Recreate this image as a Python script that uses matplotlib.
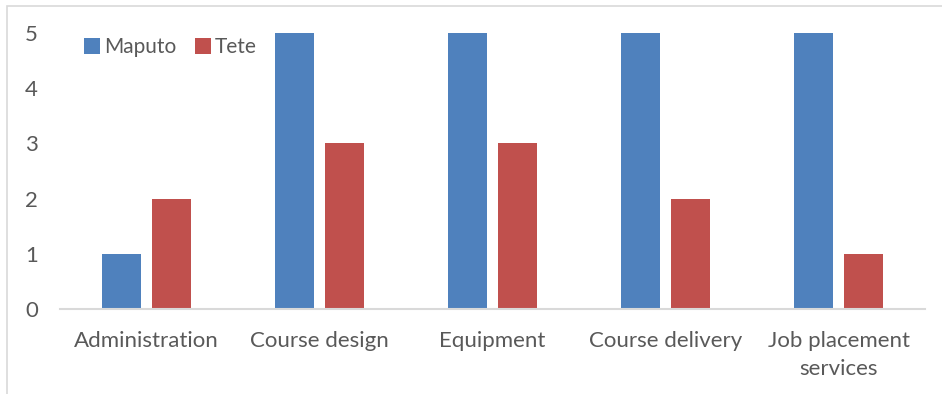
import matplotlib
matplotlib.use("Agg")
import matplotlib.pyplot as plt
import numpy as np
from matplotlib.patches import Rectangle

categories = ["Administration", "Course design", "Equipment", "Course delivery", "Job placement\nservices"]
maputo = [1, 5, 5, 5, 5]
tete = [2, 3, 3, 2, 1]
series_names = ["Maputo", "Tete"]
colors = ["#4f81bd", "#c0504d"]

plt.rcParams['font.family'] = ['Lato', 'DejaVu Sans']
W, H = 942, 394
fig = plt.figure(figsize=(W / 100, H / 100), dpi=100)
ax = fig.add_axes([60 / W, (H - 309) / H, (925 - 60) / W, (309 - 33) / H])

x = np.arange(len(categories))
bw = 0.226
off = 0.142
ax.bar(x - off, maputo, bw, color=colors[0], label=series_names[0])
ax.bar(x + off, tete, bw, color=colors[1], label=series_names[1])

ax.set_xlim(-0.5, len(categories) - 0.5)
ax.set_ylim(0, 5)
ax.set_yticks(range(0, 6))
ax.set_xticks(x)
ax.set_xticklabels(categories, linespacing=1.5)
for s in ["top", "right", "left"]:
    ax.spines[s].set_visible(False)
ax.spines["bottom"].set_color("#d9d9d9")
ax.spines["bottom"].set_linewidth(1.5)
ax.tick_params(axis="both", length=0, labelcolor="#595959")
ax.tick_params(axis="x", labelsize=16, pad=16)
ax.tick_params(axis="y", labelsize=16, pad=16)

leg = ax.legend(loc="upper left", bbox_to_anchor=(76 / W, (H - 29) / H), bbox_transform=fig.transFigure,
                ncol=2, frameon=False, fontsize=15, handlelength=0.75, handleheight=0.75,
                handletextpad=0.2, columnspacing=0.9, borderaxespad=0)
for t in leg.get_texts():
    t.set_color("#595959")

fig.patches.append(Rectangle((7 / W, -0.1), 1.1, (H - 6) / H + 0.1, transform=fig.transFigure,
                             fill=False, edgecolor="#d9d9d9", linewidth=1.2))

fig.savefig("out.png", dpi=100)
